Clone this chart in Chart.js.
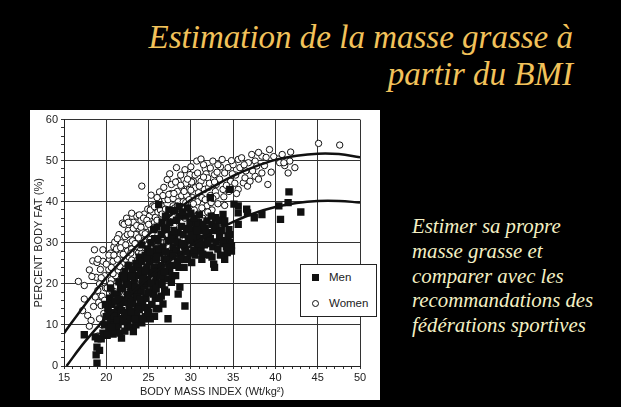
<!DOCTYPE html>
<html>
<head>
<meta charset="utf-8">
<script src="https://cdn.jsdelivr.net/npm/chart.js@4.4.1/dist/chart.umd.min.js"></script>
<style>
  body { margin: 0; background: #000; width: 621px; height: 407px; overflow: hidden; position: relative; }
  .titre { position: absolute; right: 48px; top: 19px; text-align: right; color: #f2c25a;
           font-family: "Liberation Serif", "Times New Roman", serif; font-style: italic; font-size: 33px; line-height: 37px; }
  .texte { position: absolute; left: 412px; top: 214px; color: #f4f0c4;
           font-family: "Liberation Serif", "Times New Roman", serif; font-style: italic; font-size: 20.8px; line-height: 24.8px; }
  #boite { position: absolute; left: 30px; top: 110px; width: 350px; height: 290px; background: #fff; }
  #legende { position: absolute; left: 270px; top: 154px; width: 75px; height: 51px; background: #fff;
             border: 1px solid #222; font-family: "Liberation Sans", Arial, sans-serif; font-size: 11.5px; color: #222; }
  #legende div { position: absolute; left: 28px; }
  .carre { position: absolute; left: 11px; width: 7px; height: 7px; background: #111; }
  .rond { position: absolute; left: 11px; width: 5px; height: 5px; border: 1px solid #111; border-radius: 50%; }
</style>
</head>
<body>
<div class="titre">Estimation de la masse grasse à<br>partir du BMI</div>
<div class="texte">Estimer sa propre<br>masse grasse et<br>comparer avec les<br>recommandations des<br>fédérations sportives</div>
<div id="boite">
  <canvas id="graphique"></canvas>
  <div id="legende">
    <span class="carre" style="top:9px"></span><div id="lg0" style="top:6px"></div>
    <span class="rond" style="top:35px"></span><div id="lg1" style="top:32px"></div>
  </div>
</div>
<script>
// donnees (BMI, % masse grasse)
const menPoints = [
  [17.4,7.6],[18.7,7.1],[18.8,2.7],[18.9,0.7],[18.9,4.6],[19.2,3.8],[19.4,6.6],[19.0,6.6],
  [19.6,8],[19.8,10],[20.0,12],[20.3,9],[20.5,11],[20.8,7.8],[20.2,14],[20.6,13],[20.9,10],[19.9,15],[20.4,16.5],[20.7,15],[20.1,7.5],[20.9,17.5],[20.5,19],
  [21.8,6.8],[21.1,8.5],[21.4,10],[21.7,11.5],[21.2,13],[21.6,14.5],[21.9,16],[21.3,17.5],[21.7,19],[21.5,20.5],[21.9,22],[21.2,9.5],[21.6,8],[21.8,13.5],
  [22.2,8.5],[22.5,10],[22.8,11.5],[22.3,13],[22.7,14.5],[22.1,16],[22.5,17.5],[22.9,19],[22.4,20.5],[22.8,22],[22.2,23],[22.6,24.5],[22.9,9.5],[22.4,12],[22.7,16.8],
  [23.2,8.4],[23.5,10],[23.8,11.5],[23.3,13],[23.7,14.5],[23.1,16],[23.5,17.5],[23.9,19],[23.3,20.5],[23.7,22],[23.1,23.5],[23.5,25],[23.9,26.5],[23.6,12],[23.2,18.5],[23.8,24],
  [24.2,10.5],[24.6,12],[24.9,13.5],[24.3,15],[24.7,16.5],[24.1,18],[24.5,19.5],[24.9,21],[24.4,22.5],[24.8,24],[24.2,25.5],[24.6,27],[24.9,28.5],[24.4,11.5],[24.7,20.2],[24.0,23],
  [25.7,12.1],[25.9,13.9],[25.2,11.5],[25.4,15],[25.8,16.5],[25.1,18],[25.5,19.5],[25.9,21],[25.3,22.5],[25.7,24],[25.1,25.5],[25.5,27],[25.9,28.5],[25.3,30],[25.7,31],[25.6,17.5],
  [26.7,15.1],[26.2,14],[26.5,17],[26.9,18.5],[26.3,20],[26.7,21.5],[26.1,23],[26.5,24.5],[26.9,26],[26.3,27.5],[26.7,29],[26.1,30.5],[26.5,32],[26.9,33.2],[26.4,22],[26.2,39.3],
  [27.3,11.5],[27.7,20.4],[27.3,21.2],[27.1,18],[27.5,23],[27.9,24.5],[27.2,26],[27.6,27.5],[27.9,29],[27.3,30.5],[27.7,32],[27.1,33.5],[27.5,35],[27.8,22],
  [28.5,17.5],[28.7,19.2],[28.2,22],[28.6,24],[28.9,26],[28.3,28],[28.7,29.5],[28.1,31],[28.5,32.5],[28.9,34],[28.3,35.5],[28.7,36.5],[28.4,25.5],
  [29.3,14.6],[29.2,24],[29.6,26],[29.9,27.5],[29.3,29],[29.7,30.5],[29.1,32],[29.5,33.5],[29.9,35],[29.4,36.5],[29.8,31],
  [30.1,25.2],[30.5,27],[30.9,28.5],[30.3,30],[30.7,31.5],[30.2,33],[30.6,34.5],[30.9,34.9],[30.4,36],[30.8,29.5],
  [31.3,26.0],[31.9,30.5],[31.5,32.9],[31.9,35.3],[31.2,28],[31.6,29.5],[31.1,31],[31.7,33.5],[31.4,34.5],
  [32.8,24.0],[32.7,24.8],[32.4,36.5],[32.9,36.1],[32.2,27],[32.6,29],[32.3,31],[32.8,33],[32.5,34.5],[32.1,32.5],[32.3,41.0],
  [33.4,31.3],[33.8,36.9],[33.2,28.5],[33.6,33],[33.9,34.8],[33.3,35.5],
  [34.0,26.0],[34.3,27.6],[34.6,30.1],[34.0,30.5],[34.4,31.7],[34.8,29.3],[34.0,35.3],[34.6,43.0],[34.5,33.2],[34.8,28],
  [35.1,39.4],[35.6,39.0],[35.6,37.3],[35.6,34.5],[36.6,38.2],[36.7,37.3],
  [37.5,36.1],[38.4,36.9],[40.4,39.0],[40.6,35.7],[41.5,39.8],[41.6,42.4],[43.0,37.5],
  [20.3,12.5],[20.6,9.5],[20.9,12.2],[21.0,15.8],[21.3,11.2],[21.5,16.2],[21.9,18.8],[22.0,10.8],[22.3,15.5],[22.6,19.8],
  [22.9,13.2],[22.1,21.5],[23.0,15.2],[23.4,19.2],[23.7,16.8],[23.0,21.8],[23.4,11.4],[23.9,13.8],[24.0,16.2],[24.3,20.8],
  [24.6,23.2],[24.9,17.8],[24.2,29.5],[24.6,14.2],[24.8,26.2],[25.0,13.0],[25.3,20.2],[25.6,22.8],[25.9,25.8],[25.2,27.8],
  [25.6,33.2],[25.9,18.8],[26.0,26.5],[26.3,16.5],[26.6,19.8],[26.9,23.0],[26.2,28.5],[26.6,35.0],[26.0,33.8],[27.0,27.8],
  [27.4,24.5],[27.7,30.8],[27.0,36.5],[27.4,38.0],[27.9,26.8],[28.0,33.0],[28.4,30.2],[28.8,27.2],[28.1,37.8],[28.6,38.8],
  [29.0,29.8],[29.4,27.8],[29.8,33.2],[29.0,37.5],[29.6,38.5],[30.0,31.8],[30.4,28.2],[30.7,33.0],[30.0,37.2],[31.0,29.8],
  [31.4,27.2],[31.8,32.2],[31.0,36.8],[32.0,29.8],[32.5,26.5],[33.0,30.2],[33.5,27.0],[33.0,33.8],[33.8,29.8],[34.2,29.0],[34.6,32.0]
];
const womenPoints = [
  [16.7,20.6],[17.4,19.6],[17.4,16.3],[17.2,13.5],[17.8,12.3],
  [18.0,9.7],[18.2,11.1],[18.6,28.3],[18.4,25.6],[18.0,23.4],[18.8,21.6],[18.9,25.2],[19.0,18.4],[18.5,14.5],[18.7,16.8],[18.3,21.8],[19.0,7.3],
  [19.6,28.3],[19.6,25.5],[19.2,20.0],[19.1,15.5],[19.2,11.5],[19.4,14.7],[19.5,17.0],[19.8,22.0],[19.3,23.5],[19.9,19.0],[19.7,12.8],
  [20.0,11.5],[20.2,14],[20.4,16.5],[20.1,19],[20.6,21],[20.3,23.5],[20.8,25.5],[20.5,27.5],[20.9,29],[20.7,18],[20.2,13],[20.9,15],[20.6,24],
  [21.1,12.5],[21.3,15],[21.5,17],[21.2,19.5],[21.7,21.5],[21.4,23],[21.9,25],[21.6,27],[21.2,28.5],[21.8,30],[21.5,32],[21.9,34.8],[21.3,26],[21.8,18.5],[21.1,22],[21.6,14],
  [22.1,13],[22.4,15.5],[22.7,17.5],[22.2,20],[22.6,22],[22.9,24],[22.3,26],[22.5,28],[22.8,30],[22.2,31.5],[22.6,33],[22.9,35],[22.4,36],[22.0,23.5],[22.7,26.5],[22.3,18],[22.9,19.5],[22.5,32],
  [23.1,15],[23.4,17],[23.7,19],[23.2,21],[23.6,23],[23.9,25],[23.3,27],[23.7,29],[23.1,30.5],[23.5,32],[23.9,33.5],[23.2,35],[23.6,36.5],[23.0,37.2],[23.8,27.5],[23.4,24.5],[23.8,21.5],[23.0,28.5],
  [24.2,43.8],[24.1,17],[24.5,19.5],[24.8,21.5],[24.3,23.5],[24.7,25.5],[24.2,27.5],[24.6,29.5],[24.9,31],[24.3,32.5],[24.7,34],[24.1,35.5],[24.5,37],[24.9,38.2],[24.4,30.5],[24.8,27],[24.0,26],
  [25.3,41.6],[25.5,39],[25.1,21],[25.4,23.5],[25.8,26],[25.2,28],[25.6,30],[25.9,32],[25.3,33.5],[25.7,35],[25.1,36.5],[25.5,37.5],[25.9,38.5],[25.2,30.8],[25.6,27.5],[25.8,36.2],
  [26.3,42.4],[26.1,22.5],[26.5,25],[26.8,27.5],[26.2,29.5],[26.6,31.5],[26.9,33],[26.3,34.5],[26.7,36],[26.1,37.5],[26.5,39],[26.9,40.5],[26.4,38],[26.8,30],
  [27.2,45.4],[27.7,44.2],[27.1,25],[27.5,28],[27.9,30.5],[27.3,32],[27.7,34],[27.2,36],[27.6,37.5],[27.9,39],[27.3,40.5],[27.7,42],[27.5,35],
  [28.3,48.3],[28.5,45.0],[28.9,43.2],[28.2,28],[28.6,31],[28.9,33.5],[28.3,35.5],[28.7,37],[28.1,38.5],[28.5,40],[28.9,41.5],[28.4,42.5],
  [29.9,46.6],[29.2,29],[29.6,32],[29.9,34],[29.3,36],[29.7,38],[29.1,40],[29.5,41.5],[29.8,43],[29.4,44.5],[29.6,36.8],
  [30.3,45],[30.7,49.9],[30.5,43.4],[30.9,42.2],[30.1,44.8],[30.2,32],[30.6,35],[30.4,38],[30.8,40],[30.2,41],[30.9,37],
  [31.2,50.4],[31.9,47.9],[31.7,48],[31.1,34],[31.5,37],[31.9,39],[31.3,41],[31.6,43],[31.2,45],[31.8,46.8],[31.4,36],
  [32.0,45.8],[32.6,49.9],[32.8,46.6],[32.4,39.8],[32.3,41.5],[32.1,43.5],[32.9,42.5],[32.5,38],
  [33.0,44.2],[33.7,50.3],[33.0,41.4],[33.1,47.2],[33.4,45.5],[33.8,43],
  [34.0,47.0],[34.4,48.3],[34.0,39.1],[34.7,45],[34.5,42.5],
  [35.6,50.3],[35.8,48.3],[35.6,43.0],[35.3,46.5],[35.2,44.5],
  [36.0,50.7],[36.2,44.6],[36.4,45.8],[36.7,43.8],[36.5,47.5],
  [37.2,51.5],[37.6,49.9],[37.8,48.7],[37.6,46.2],[37.3,47.5],
  [38.4,51.1],[38.4,47.0],[38.9,50.8],
  [39.3,52.7],[39.5,47.2],[39.1,44.2],
  [40.3,50.4],[40.5,49.5],[41.1,48.8],[41.5,47.0],[41.8,52.1],[41.7,49.9],[41.0,49.5],
  [42.3,48.3],[45.1,54.2],[47.6,53.8],
  [19.0,26.0],[19.4,21.5],[19.8,16.0],[20.0,24.8],[20.3,27.0],[20.5,20.0],[20.8,22.5],[20.9,27.0],[21.0,30.2],[21.3,31.0],
  [21.4,20.5],[21.6,24.2],[21.7,28.8],[22.0,27.2],[22.1,34.5],[22.3,29.5],[22.6,35.0],[22.7,21.0],[22.9,27.5],[22.9,32.2],
  [23.0,25.8],[23.2,33.5],[23.4,29.8],[23.5,20.0],[23.6,34.2],[23.8,31.2],[23.9,36.8],[24.0,28.8],[24.1,33.8],[24.2,20.5],
  [24.4,36.0],[24.6,32.2],[24.8,35.5],[24.9,24.2],[25.0,34.5],[25.2,38.0],[25.4,32.2],[25.6,24.5],[25.7,38.8],[25.9,29.0],
  [26.0,35.5],[26.2,40.2],[26.4,33.2],[26.6,37.0],[26.7,41.5],[26.9,35.2],[27.0,38.2],[27.1,30.2],[27.4,41.8],[27.6,33.0],
  [27.8,36.5],[27.9,40.8],[28.0,34.2],[28.2,44.8],[28.4,39.0],[28.6,36.2],[28.8,44.0],[29.0,38.5],[29.2,42.5],[29.4,39.8],
  [29.6,45.5],[29.8,40.5],[30.0,42.8],[30.3,39.5],[30.5,46.5],[30.7,36.5],[31.0,43.8],[31.3,38.5],[31.5,46.0],[31.7,40.5],
  [32.0,37.5],[32.2,44.5],[32.6,40.8],[32.8,44.8],[33.2,39.5],[33.5,48.5],[33.9,41.2],[34.2,44.0],[34.9,46.8],[35.0,49.0],
  [35.4,42.0],[36.8,49.5],[37.0,45.0],[38.0,45.5],[38.7,48.8],[39.8,51.0],[40.8,51.5],
  [26.0,41.0],[26.8,43.5],[27.5,46.8],[28.0,42.0],[28.8,46.5],[29.3,47.8],[30.0,48.5],[30.8,47.0],[31.5,49.0],[32.3,48.2],
  [33.2,49.0],[34.8,50.0],[36.3,49.0],[38.0,52.0],[19.5,10.0],[20.5,12.5],[21.0,10.5]
];
// courbes de regression
const womenCurveBmi = [15, 17.5, 20, 22.5, 25, 27.5, 30, 32.5, 35, 37.5, 40, 42.5, 45, 47.5, 50];
const womenCurveFat = [8, 15, 21.5, 27, 32, 36.5, 40.5, 43.5, 46.3, 48.5, 50.2, 51.2, 51.7, 51.6, 50.8];
const menCurveBmi = [15.3, 17.5, 20, 22.5, 25, 27.5, 30, 32.5, 35, 37.5, 40, 42.5, 45, 47.5, 50];
const menCurveFat = [0, 6, 11.8, 16.8, 21.5, 25.5, 29.3, 32.4, 35.1, 37.2, 38.7, 39.7, 40.2, 40.2, 39.8];

const xTicks = [15, 20, 25, 30, 35, 40, 45, 50];
const yTicks = [0, 10, 20, 30, 40, 50, 60];
const seriesLabels = ['Men', 'Women'];

function versPoints(liste) {
    return liste.map(p => ({ x: p[0], y: p[1] }));
}
function courbe(xs, ys) {
    return xs.map((x, i) => ({ x: x, y: ys[i] }));
}

document.getElementById('lg0').textContent = seriesLabels[0];
document.getElementById('lg1').textContent = seriesLabels[1];

var police = { family: '"Liberation Sans", Arial, sans-serif', size: 11 };

new Chart(document.getElementById('graphique').getContext('2d'), {
    type: 'scatter',
    data: {
        datasets: [
            {
                type: 'line',
                label: 'courbe femmes',
                data: courbe(womenCurveBmi, womenCurveFat),
                borderColor: '#111',
                borderWidth: 2.5,
                pointRadius: 0,
                tension: 0.4,
                fill: false
            },
            {
                type: 'line',
                label: 'courbe hommes',
                data: courbe(menCurveBmi, menCurveFat),
                borderColor: '#111',
                borderWidth: 2.5,
                pointRadius: 0,
                tension: 0.4,
                fill: false
            },
            {
                label: seriesLabels[0],
                data: versPoints(menPoints),
                pointStyle: 'rect',
                pointRadius: 5.2,
                backgroundColor: '#111',
                borderColor: '#111',
                borderWidth: 0
            },
            {
                label: seriesLabels[1],
                data: versPoints(womenPoints),
                pointStyle: 'circle',
                pointRadius: 3.2,
                backgroundColor: '#fff',
                borderColor: '#111',
                borderWidth: 1
            }
        ]
    },
    options: {
        responsive: true,
        maintainAspectRatio: false,
        animation: false,
        layout: { padding: { left: 0, right: 20, top: 8, bottom: 0 } },
        plugins: {
            legend: { display: false },
            tooltip: { enabled: false }
        },
        scales: {
            x: {
                type: 'linear',
                min: 15,
                max: 50,
                afterFit: function(s) { s.height = 34; },
                ticks: {
                    stepSize: 1,
                    autoSkip: false,
                    maxRotation: 0,
                    padding: 2,
                    color: '#222',
                    font: police,
                    callback: function(v) { return xTicks.includes(v) ? String(v) : ''; }
                },
                grid: {
                    color: function(c) { return xTicks.includes(c.tick.value) ? '#333' : 'rgba(0,0,0,0)'; },
                    tickColor: '#333',
                    tickLength: 3,
                    lineWidth: 1
                },
                border: { color: '#222', width: 1 },
                title: {
                    display: true,
                    text: 'BODY MASS INDEX (Wt/kg²)',
                    color: '#222',
                    font: police,
                    padding: { top: 0, bottom: 1 }
                }
            },
            y: {
                min: 0,
                max: 60,
                afterFit: function(s) { s.width = 34; },
                ticks: {
                    stepSize: 2,
                    autoSkip: false,
                    padding: 3,
                    color: '#222',
                    font: police,
                    callback: function(v) { return yTicks.includes(v) ? String(v) : ''; }
                },
                grid: {
                    color: function(c) { return yTicks.includes(c.tick.value) ? '#333' : 'rgba(0,0,0,0)'; },
                    tickColor: '#333',
                    tickLength: 3,
                    lineWidth: 1
                },
                border: { color: '#222', width: 1 },
                title: {
                    display: true,
                    text: 'PERCENT BODY FAT (%)',
                    color: '#222',
                    font: police,
                    padding: { top: 2, bottom: 0 }
                }
            }
        }
    }
});
</script>
</body>
</html>
